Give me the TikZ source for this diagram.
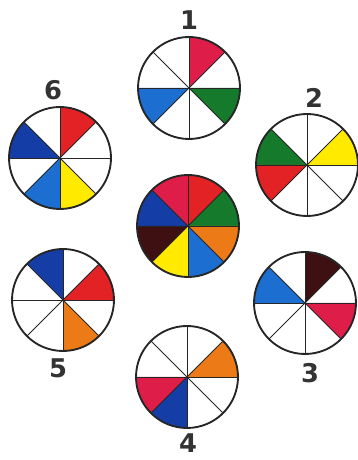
\documentclass[tikz,border=0pt]{standalone}
\usepackage{fontspec}
\setsansfont{DejaVu Sans}
\usepackage{xcolor}
\usepackage{tikz}

\definecolor{wred}{RGB}{226,34,36}
\definecolor{wcrim}{RGB}{222,30,72}
\definecolor{wgreen}{RGB}{22,122,44}
\definecolor{wdblue}{RGB}{20,62,166}
\definecolor{wlblue}{RGB}{28,110,208}
\definecolor{wyellow}{RGB}{255,234,0}
\definecolor{worange}{RGB}{236,122,22}
\definecolor{wbrown}{RGB}{62,16,18}

\begin{document}
\begin{tikzpicture}[
  rim/.style={line width=1.6pt, draw=black!85},
  spoke/.style={line width=0.8pt, draw=black!85},
  num/.style={font=\sffamily\bfseries\fontsize{22}{22}\selectfont, text=black!80},
]
  \useasboundingbox (0,0) rectangle (10.74,13.8);

  % Wheel centres
  \coordinate (c)  at (5.64,7.02);
  \coordinate (w1) at (5.67,11.16);
  \coordinate (w2) at (9.21,8.85);
  \coordinate (w3) at (9.15,4.71);
  \coordinate (w4) at (5.61,2.49);
  \coordinate (w5) at (1.89,4.80);
  \coordinate (w6) at (1.80,9.06);

  % Coloured sectors (start angle of each 45 degree slice)
  \foreach \w/\a/\col in {c/0/wgreen, c/45/wred, c/90/wcrim, c/135/wdblue,
                          c/180/wbrown, c/225/wyellow, c/270/wlblue, c/315/worange,
                          w1/45/wcrim, w1/315/wgreen, w1/180/wlblue,
                          w2/135/wgreen, w2/180/wred, w2/0/wyellow,
                          w3/45/wbrown, w3/135/wlblue, w3/315/wcrim,
                          w4/0/worange, w4/180/wcrim, w4/225/wdblue,
                          w5/90/wdblue, w5/0/wred, w5/270/worange,
                          w6/45/wred, w6/135/wdblue, w6/225/wlblue, w6/270/wyellow} {
    \fill[\col] (\w) -- ++(\a:1.53) arc[start angle=\a, delta angle=45, radius=1.53] -- cycle;
  }

  % Spokes and rims
  \foreach \w in {c,w1,w2,w3,w4,w5,w6} {
    \foreach \a in {0,45,90,135}
      \draw[spoke] (\w) ++(\a:1.53) -- ++({\a+180}:3.06);
    \draw[rim] (\w) circle (1.53);
  }

  % Numbers
  \node[num] (n1) at (5.67,13.2) {1};
  \node[num] (n2) at (9.42,10.86) {2};
  \node[num] (n3) at (9.30,2.61) {3};
  \node[num] (n4) at (5.64,0.51) {4};
  \node[num] (n5) at (1.74,2.76) {5};
  \node[num] (n6) at (1.59,11.10) {6};
\end{tikzpicture}
\end{document}
